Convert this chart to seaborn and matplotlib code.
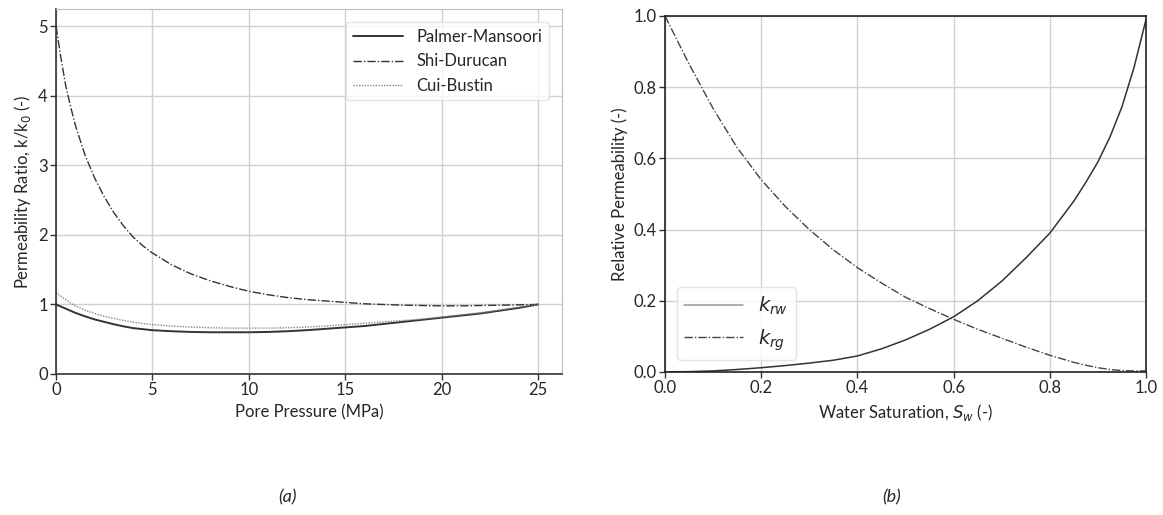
import numpy as np
import pandas as pd
import matplotlib.pyplot as plt
import seaborn as sns

# --- (a) permeability ratio vs pore pressure ---
pressure = [0, 0.25, 0.5, 0.75, 1, 1.5, 2, 2.5, 3, 3.5, 4, 4.5, 5, 6, 7, 8, 9, 10,
            11, 12, 13, 14, 15, 16, 17, 18, 19, 20, 21, 22, 23, 24, 25]
palmer_mansoori = [1.0, 0.97, 0.94, 0.91, 0.88, 0.83, 0.785, 0.75, 0.715, 0.685, 0.66,
                   0.645, 0.63, 0.615, 0.605, 0.60, 0.60, 0.60, 0.605, 0.615, 0.63,
                   0.65, 0.67, 0.69, 0.72, 0.75, 0.78, 0.81, 0.84, 0.87, 0.91, 0.95, 1.0]
shi_durucan = [5.0, 4.55, 4.15, 3.85, 3.58, 3.15, 2.82, 2.55, 2.32, 2.13, 1.97, 1.845,
               1.74, 1.57, 1.44, 1.34, 1.26, 1.19, 1.14, 1.10, 1.07, 1.05, 1.03, 1.01,
               1.0, 0.99, 0.985, 0.98, 0.98, 0.985, 0.99, 0.995, 1.0]
cui_bustin = [1.17, 1.12, 1.07, 1.02, 0.98, 0.92, 0.87, 0.83, 0.80, 0.77, 0.745, 0.725,
              0.71, 0.69, 0.675, 0.665, 0.66, 0.66, 0.66, 0.665, 0.675, 0.69, 0.71,
              0.73, 0.75, 0.77, 0.79, 0.82, 0.85, 0.88, 0.92, 0.96, 1.0]

# --- (b) relative permeability vs water saturation ---
sw = [0.0, 0.05, 0.1, 0.15, 0.2, 0.25, 0.3, 0.35, 0.4, 0.45, 0.5, 0.55, 0.6,
      0.65, 0.7, 0.75, 0.8, 0.85, 0.875, 0.9, 0.925, 0.95, 0.975, 1.0]
krw = [0.0, 0.001, 0.003, 0.007, 0.012, 0.018, 0.025, 0.033, 0.045, 0.065, 0.09,
       0.12, 0.155, 0.2, 0.255, 0.32, 0.39, 0.48, 0.533, 0.59, 0.66, 0.745, 0.855, 0.99]
krg = [1.0, 0.865, 0.74, 0.63, 0.54, 0.465, 0.40, 0.343, 0.293, 0.25, 0.21, 0.178,
       0.148, 0.12, 0.095, 0.07, 0.047, 0.027, 0.019, 0.012, 0.007, 0.004, 0.003, 0.003]

df_a = pd.DataFrame({'P': pressure, 'pm': palmer_mansoori, 'sd': shi_durucan, 'cb': cui_bustin})
df_b = pd.DataFrame({'sw': sw, 'krw': krw, 'krg': krg})

sns.set_style('whitegrid')
plt.rcParams['font.family'] = ['Lato', 'DejaVu Sans']
plt.rcParams['mathtext.fontset'] = 'dejavusans'

fig = plt.figure(figsize=(11.63, 5.15), dpi=100)
ax1 = fig.add_axes([0.0482, 0.2738, 0.435, 0.7087])
ax2 = fig.add_axes([0.5718, 0.2777, 0.4136, 0.6913])

dashdot = (6, 1.5, 1, 1.5)

sns.lineplot(data=df_a, x='P', y='pm', ax=ax1, color='#333333', lw=1.4, label='Palmer-Mansoori')
sns.lineplot(data=df_a, x='P', y='sd', ax=ax1, color='#333333', lw=1.0, label='Shi-Durucan')
ax1.lines[-1].set_dashes(dashdot)
sns.lineplot(data=df_a, x='P', y='cb', ax=ax1, color='#888888', lw=1.0, label='Cui-Bustin')
ax1.lines[-1].set_linestyle((0, (1, 1)))

ax1.set_xlim(0, 26.25)
ax1.set_ylim(0, 5.25)
ax1.set_xticks([0, 5, 10, 15, 20, 25])
ax1.set_yticks([0, 1, 2, 3, 4, 5])
ax1.set_xlabel('Pore Pressure (MPa)', fontsize=12)
ax1.set_ylabel('Permeability Ratio, k/k$_0$ (-)', fontsize=12)
for s in ['top', 'right']:
    ax1.spines[s].set_color('#bbbbbb')
for s in ['left', 'bottom']:
    ax1.spines[s].set_color('#333333')
    ax1.spines[s].set_linewidth(1.2)
ax1.legend(loc='upper right', fontsize=12, frameon=True, edgecolor='#dddddd',
           handlelength=3, borderaxespad=0.8)

sns.lineplot(data=df_b, x='sw', y='krw', ax=ax2, color='#333333', lw=1.1, label='$k_{rw}$')
sns.lineplot(data=df_b, x='sw', y='krg', ax=ax2, color='#444444', lw=1.0, label='$k_{rg}$')
ax2.lines[-1].set_dashes(dashdot)
ax2.set_xlim(0, 1)
ax2.set_ylim(0, 1)
ticks = np.arange(0, 1.01, 0.2)
ax2.set_xticks(ticks)
ax2.set_yticks(ticks)
ax2.set_xticklabels([f'{v:.1f}' for v in ticks])
ax2.set_yticklabels([f'{v:.1f}' for v in ticks])
ax2.set_xlabel('Water Saturation, $S_w$ (-)', fontsize=12)
ax2.set_ylabel('Relative Permeability (-)', fontsize=12)
for s in ax2.spines.values():
    s.set_color('#222222')
    s.set_linewidth(1.2)
leg2 = ax2.legend(loc='lower left', fontsize=14, frameon=True, edgecolor='#dddddd',
                  handlelength=3, borderaxespad=0.6)
leg2.get_lines()[0].set_color('#999999')

for ax in (ax1, ax2):
    ax.tick_params(axis='both', labelsize=12, length=4, width=1, color='#333333',
                   left=True, bottom=True, pad=2)
    ax.grid(True, color='#d0d0d0', lw=1)

fig.text(0.247, 0.025, '(a)', fontsize=13, style='italic', ha='center')
fig.text(0.767, 0.025, '(b)', fontsize=13, style='italic', ha='center')

fig.savefig('out.png', dpi=100, facecolor='white')
